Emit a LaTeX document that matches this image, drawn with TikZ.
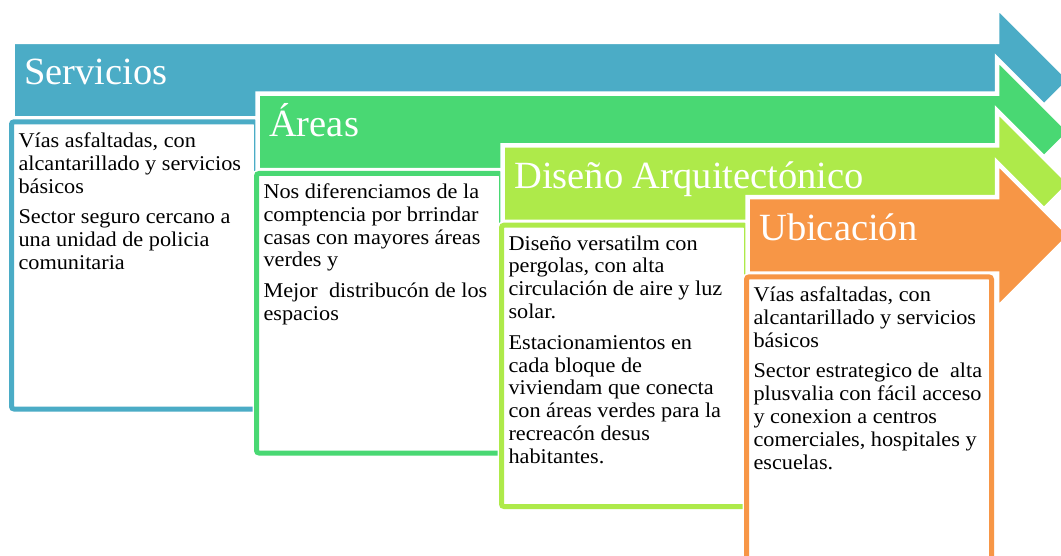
\documentclass[tikz,border=0pt]{standalone}
\usepackage{fontspec}
\setmainfont{Liberation Serif}
\newfontfamily\bodyfont{Liberation Serif}[FakeStretch=1.06]
\definecolor{cblue}{RGB}{75,172,198}
\definecolor{cgreen}{RGB}{73,216,115}
\definecolor{clime}{RGB}{174,234,74}
\definecolor{corange}{RGB}{247,150,70}
\tikzset{
  arrowshape/.style={line width=4.5pt, draw=white, line join=miter},
  boxhalo/.style={draw=white, fill=white, line width=8pt, rounded corners=2.5pt},
  boxline/.style={line width=5pt, rounded corners=2.5pt},
  titletext/.style={anchor=base west, inner sep=0pt, text=white, font=\fontsize{38.5}{40}\selectfont},
  bodytext/.style={anchor=base west, inner sep=0pt, text=black, font=\bodyfont\fontsize{21}{22.8}\selectfont}
}
\newcommand{\bodypar}[1]{\parbox[t]{250pt}{\raggedright\setlength{\parskip}{8pt}#1}}
\begin{document}
\begin{tikzpicture}[x=1pt,y=-1pt]
\useasboundingbox (0,0) rectangle (1061,556);
\clip (0,0) rectangle (1061,556);
% ---- Servicios
\path[arrowshape, fill=cblue] (12.5,41.8) -- (997,41.8) -- (997,7.05) -- (1070,80.05) -- (997,153.05) -- (997,118.3) -- (12.5,118.3) -- cycle;
\node[titletext] (t1) at (24,85) {Servicios};
\path[boxhalo] (11.5,121.8) rectangle (256.5,409);
\draw[boxline, cblue] (11.5,121.8) rectangle (256.5,409);
\node[bodytext] (b1) at (18.3,147.5) {\bodypar{Vías asfaltadas, con\\ alcantarillado y servicios\\ básicos\par Sector seguro cercano a\\ una unidad de policia\\ comunitaria}};
% ---- Areas
\path[arrowshape, fill=cgreen] (257.5,93.6) -- (997,93.6) -- (997,58.85) -- (1070,131.85) -- (997,204.85) -- (997,170.1) -- (257.5,170.1) -- cycle;
\node[titletext] (t2) at (269,137) {Áreas};
\path[boxhalo] (256.5,173.5) rectangle (501.5,453);
\draw[boxline, cgreen] (256.5,173.5) rectangle (501.5,453);
\node[bodytext] (b2) at (263.3,198.5) {\bodypar{Nos diferenciamos de la\\ comptencia por brrindar\\ casas con mayores áreas\\ verdes y\par Mejor~ distribucón de los\\ espacios}};
% ---- Diseno
\path[arrowshape, fill=clime] (502.5,145.4) -- (997,145.4) -- (997,110.65) -- (1070,183.65) -- (997,256.65) -- (997,221.9) -- (502.5,221.9) -- cycle;
\node[titletext] (t3) at (514,189) {Diseño Arquitectónico};
\path[boxhalo] (501.5,225.2) rectangle (746.5,506.5);
\draw[boxline, clime] (501.5,225.2) rectangle (746.5,506.5);
\node[bodytext] (b3) at (508.3,250.2) {\bodypar{Diseño versatilm con\\ pergolas, con alta\\ circulación de aire y luz\\ solar.\par Estacionamientos en\\ cada bloque de\\ viviendam que conecta\\ con áreas verdes para la\\ recreacón desus\\ habitantes.}};
% ---- Ubicacion
\path[arrowshape, fill=corange] (747.5,197.2) -- (997,197.2) -- (997,162.45) -- (1070,235.45) -- (997,308.45) -- (997,273.7) -- (747.5,273.7) -- cycle;
\node[titletext] (t4) at (759,241) {Ubicación};
\path[boxhalo] (746.5,276.9) rectangle (991.5,566);
\draw[boxline, corange] (746.5,276.9) rectangle (991.5,566);
\node[bodytext] (b4) at (753.3,301.6) {\bodypar{Vías asfaltadas, con\\ alcantarillado y servicios\\ básicos\par Sector estrategico de~ alta\\ plusvalia con fácil acceso\\ y conexion a centros\\ comerciales, hospitales y\\ escuelas.}};
\end{tikzpicture}
\end{document}
